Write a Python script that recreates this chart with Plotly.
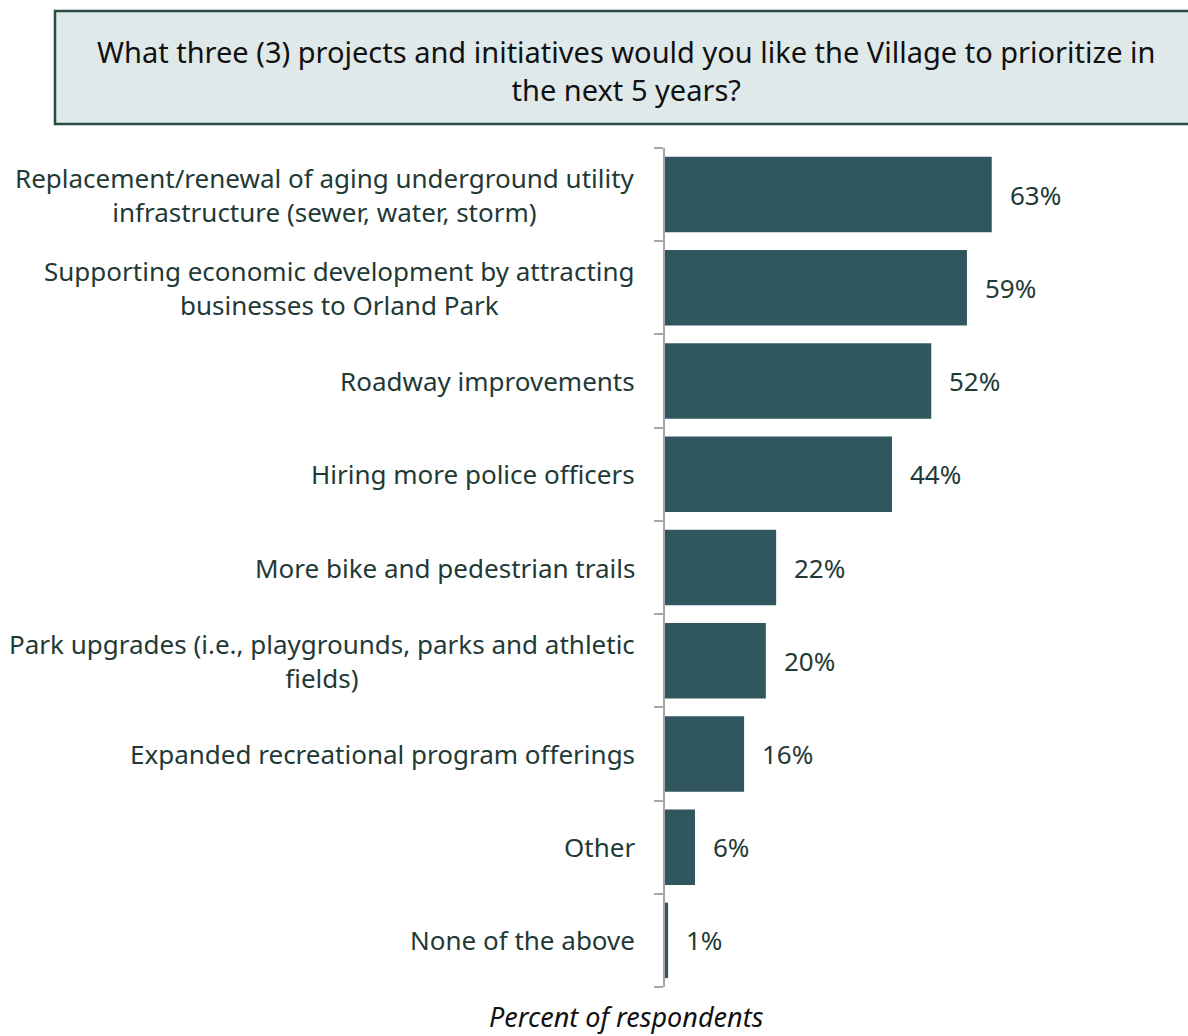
import plotly.graph_objects as go

categories = [
    "Replacement/renewal of aging underground utility<br>infrastructure (sewer, water, storm)",
    "Supporting economic development by attracting<br>businesses to Orland Park",
    "Roadway improvements",
    "Hiring more police officers",
    "More bike and pedestrian trails",
    "Park upgrades (i.e., playgrounds, parks and athletic<br>fields)",
    "Expanded recreational program offerings",
    "Other",
    "None of the above",
]
values = [63.2, 58.4, 51.5, 43.9, 21.5, 19.5, 15.3, 5.8, 0.6]
value_labels = ["63%", "59%", "52%", "44%", "22%", "20%", "16%", "6%", "1%"]
title_text = ("What three (3) projects and initiatives would you like the Village to prioritize in"
              "<br>the next 5 years?")
x_title = "Percent of respondents"

W, H = 1188, 1036
L, R, T, B = 665, 6, 148, 49
FONT = "Noto Sans"
LABEL_COLOR = "#1f3a36"
BAR_COLOR = "#30565e"

ids = list(range(len(categories)))
boundaries = [i - 0.5 for i in range(len(categories) + 1)]

fig = go.Figure()
fig.add_trace(go.Bar(
    x=values, y=ids, orientation="h",
    marker=dict(color=BAR_COLOR, line=dict(width=0)),
    width=0.81, hoverinfo="skip",
))

annotations = []
for i, (c, v, lab) in enumerate(zip(categories, values, value_labels)):
    annotations.append(dict(
        x=0, y=i, xref="x", yref="y", text=c, showarrow=False,
        xanchor="right", yanchor="middle", align="center", xshift=-28,
        font=dict(family=FONT, size=26, color=LABEL_COLOR),
    ))
    annotations.append(dict(
        x=v, y=i, xref="x", yref="y", text=lab, showarrow=False,
        xanchor="left", yanchor="middle", xshift=16,
        font=dict(family=FONT, size=26, color=LABEL_COLOR),
    ))

pw = W - L - R
ph = H - T - B
annotations.append(dict(
    x=(626 - L) / pw, y=-(1016 - (H - B)) / ph, xref="paper", yref="paper",
    text="<i>" + x_title + "</i>", showarrow=False, xanchor="center", yanchor="middle",
    font=dict(family=FONT, size=27, color="#111111"),
))
annotations.append(dict(
    x=(626 - L) / pw, y=1 + (T - 70) / ph, xref="paper", yref="paper",
    text=title_text, showarrow=False, xanchor="center", yanchor="middle",
    font=dict(family=FONT, size=29, color="#111111"),
))

shapes = [dict(
    type="rect", xref="paper", yref="paper",
    x0=(55 - L) / pw, x1=(1195 - L) / pw,
    y0=1 + (T - 124) / ph, y1=1 + (T - 11) / ph,
    fillcolor="#dfe9ea", line=dict(color="#2a4a44", width=2.5), layer="below",
)]

fig.update_layout(
    width=W, height=H,
    margin=dict(l=L, r=R, t=T, b=B, autoexpand=False),
    paper_bgcolor="white", plot_bgcolor="white",
    showlegend=False,
    annotations=annotations, shapes=shapes,
    bargap=0.19,
)
fig.update_xaxes(range=[0, 100], visible=False, fixedrange=True)
fig.update_yaxes(
    range=[len(categories) - 0.5, -0.5], tickmode="array", tickvals=boundaries,
    showticklabels=False, ticks="outside", ticklen=9,
    tickcolor="#a6a6a6", tickwidth=2, showline=True, linecolor="#a6a6a6", linewidth=2,
    showgrid=False, zeroline=False, fixedrange=True,
)

fig.write_html(
    "out.html",
    config={"displayModeBar": False},
    post_script="document.body.style.margin='0';document.body.style.overflow='hidden';",
)
